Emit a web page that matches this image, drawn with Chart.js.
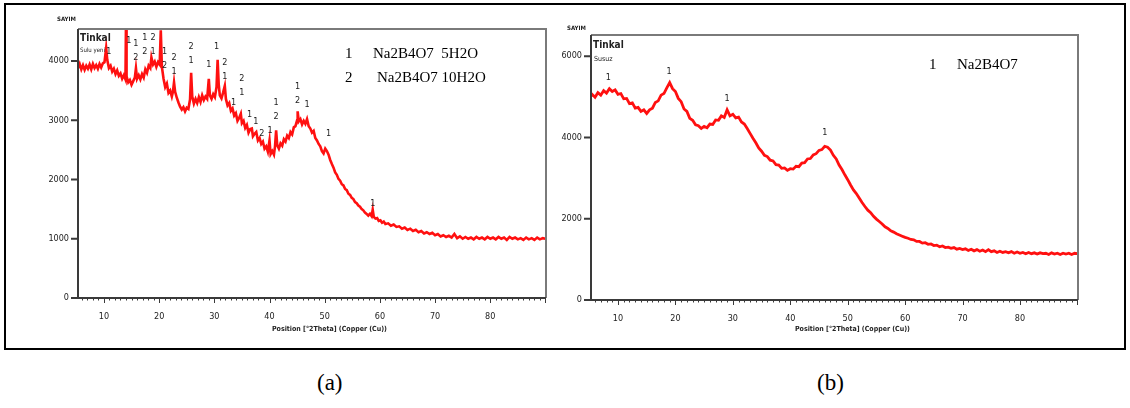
<!DOCTYPE html>
<html>
<head>
<meta charset="utf-8">
<script src="https://cdn.jsdelivr.net/npm/chart.js"></script>
<style>
  body { margin: 0; background: #fff; width: 1130px; height: 408px; position: relative; overflow: hidden; }
  .caja { position: absolute; left: 4px; top: 3px; width: 1122px; height: 347px; border: 2px solid #000; box-sizing: border-box; }
  canvas { position: absolute; }
  .t { position: absolute; white-space: nowrap; color: #222; line-height: 1; }
  .narrow { font-family: "DejaVu Sans Condensed", "Liberation Sans Narrow", sans-serif; }
  .serif { font-family: "Liberation Serif", "DejaVu Serif", serif; color: #000; }
</style>
</head>
<body>
<div class="caja"></div>
<canvas id="chartA" width="550" height="330" style="left:10px;top:10px"></canvas>
<canvas id="chartB" width="560" height="330" style="left:540px;top:10px"></canvas>

<!-- textos del panel (a) -->
<div class="t narrow" style="left:57px;top:16px;font-size:6px;font-weight:bold">SAYIM</div>
<div class="t narrow" style="left:80px;top:33px;font-size:10px;font-weight:bold">Tinkal</div>
<div class="t narrow" style="left:80px;top:47px;font-size:6px">Sulu yeni</div>
<div class="t serif" style="left:345px;top:46px;font-size:15px">1</div>
<div class="t serif" style="left:373px;top:46px;font-size:15px">Na2B4O7&nbsp; 5H2O</div>
<div class="t serif" style="left:345px;top:70px;font-size:15px">2</div>
<div class="t serif" style="left:377px;top:70px;font-size:15px">Na2B4O7 10H2O</div>
<div class="t narrow" style="left:272px;top:326px;font-size:7px;font-weight:bold">Position [°2Theta] (Copper (Cu))</div>

<!-- textos del panel (b) -->
<div class="t narrow" style="left:567px;top:25px;font-size:6px;font-weight:bold">SAYIM</div>
<div class="t narrow" style="left:593px;top:40px;font-size:10px;font-weight:bold">Tinkal</div>
<div class="t narrow" style="left:594px;top:56px;font-size:7px">Susuz</div>
<div class="t serif" style="left:929px;top:57px;font-size:15px">1</div>
<div class="t serif" style="left:957px;top:57px;font-size:15px">Na2B4O7</div>
<div class="t narrow" style="left:795px;top:326px;font-size:7px;font-weight:bold">Position [°2Theta] (Copper (Cu))</div>

<div class="t serif" style="left:317px;top:371px;font-size:23px">(a)</div>
<div class="t serif" style="left:817px;top:371px;font-size:23px">(b)</div>

<script>
const anglesA = [
  5.0, 5.3, 5.6, 5.9, 6.2, 6.5, 6.8, 7.1, 7.4, 7.7, 8.0, 8.3, 8.6, 8.9, 9.2, 9.5, 9.8,
  10.1, 10.4, 10.6, 10.9, 11.2, 11.5, 11.8, 12.1, 12.4, 12.7, 13.0, 13.3, 13.6, 13.9, 14.0, 14.1,
  14.4, 14.7, 15.0, 15.3, 15.6, 15.8, 16.0, 16.3, 16.6, 16.9, 17.2, 17.5, 17.8, 18.1, 18.4, 18.6,
  18.9, 19.2, 19.5, 19.8, 20.1, 20.3, 20.5, 20.8, 21.1, 21.4, 21.7, 22.0, 22.3, 22.5, 22.7, 22.9,
  23.2, 23.5, 23.8, 24.1, 24.4, 24.7, 25.0, 25.3, 25.6, 25.8, 26.0, 26.3, 26.6, 26.9, 27.2, 27.5,
  27.8, 28.1, 28.4, 28.7, 29.0, 29.2, 29.5, 29.8, 30.1, 30.4, 30.6, 30.8, 31.0, 31.3, 31.6, 31.9,
  32.1, 32.4, 32.7, 33.0, 33.3, 33.6, 33.9, 34.2, 34.5, 34.8, 35.0, 35.3, 35.6, 35.9, 36.2, 36.5,
  36.8, 37.0, 37.3, 37.6, 37.9, 38.2, 38.5, 38.8, 39.1, 39.4, 39.7, 40.0, 40.2, 40.5, 40.8, 41.0,
  41.2, 41.4, 41.7, 42.0, 42.3, 42.6, 42.9, 43.2, 43.5, 43.8, 44.1, 44.4, 44.7, 45.0, 45.1, 45.3,
  45.6, 45.9, 46.2, 46.5, 46.8, 47.1, 47.4, 47.7, 48.0, 48.3, 48.6, 48.9, 49.2, 49.5, 49.8, 50.1,
  50.4, 50.7, 51.0, 51.3, 51.6, 51.9, 52.2, 52.5, 52.8, 53.1, 53.4, 53.7, 54.0, 54.3, 54.6, 54.9,
  55.2, 55.5, 55.8, 56.1, 56.4, 56.7, 57.0, 57.3, 57.6, 57.9, 58.2, 58.5, 58.7, 58.9, 59.2, 59.5,
  59.8, 60.1, 60.4, 60.7, 61.0, 61.5, 62.0, 62.5, 63.0, 63.5, 64.0, 64.5, 65.0, 65.5, 66.0, 66.5,
  67.0, 67.5, 68.0, 68.5, 69.0, 69.5, 70.0, 70.5, 71.0, 71.5, 72.0, 72.5, 73.0, 73.5, 74.0, 74.5,
  75.0, 75.5, 76.0, 76.5, 77.0, 77.5, 78.0, 78.5, 79.0, 79.5, 80.0, 80.5, 81.0, 81.5, 82.0, 82.5,
  83.0, 83.5, 84.0, 84.5, 85.0, 85.5, 86.0, 86.5, 87.0, 87.5, 88.0, 88.5, 89.0, 89.5, 90.0
];
const countsA = [
  3990, 3880, 3950, 3860, 3930, 3850, 3920, 3870, 3940, 3860, 3950, 3880, 3930, 3870, 3950, 3890, 3960,
  3980, 4220, 4020, 3880, 3920, 3820, 3870, 3780, 3840, 3750, 3790, 3700, 3760, 3690, 4700, 3740,
  3640, 3680, 3600, 3660, 3720, 3880, 3700, 3760, 3690, 3780, 3720, 3860, 3800, 3920, 3880, 4060,
  3940, 3990, 3900, 3980, 3940, 4520, 3900, 3700, 3560, 3620, 3460, 3500, 3400, 3480, 3640, 3480,
  3380, 3300, 3230, 3180, 3220, 3150, 3210, 3190, 3350, 3800, 3400, 3280, 3360, 3290, 3390, 3310,
  3420, 3340, 3400, 3360, 3700, 3420, 3360, 3440, 3390, 3560, 4020, 3600, 3420, 3370, 3470, 3580,
  3360, 3250, 3290, 3160, 3200, 3080, 3120, 2990, 3040, 3110, 2950, 2990, 2870, 2920, 2790, 2850,
  2860, 2730, 2770, 2800, 2660, 2700, 2600, 2640, 2520, 2560, 2470, 2660, 2430, 2480, 2420, 2560,
  2830, 2580, 2520, 2610, 2570, 2680, 2640, 2740, 2700, 2800, 2760, 2880, 2900, 3000, 3150, 2980,
  3020, 2930, 2990, 2940, 3020, 2900, 2860, 2790, 2820, 2700, 2660, 2600, 2560, 2480, 2440, 2520,
  2480, 2420, 2330, 2260, 2200, 2120, 2080, 2010, 1980, 1920, 1900, 1840, 1820, 1760, 1740, 1690,
  1670, 1620, 1600, 1560, 1540, 1500, 1480, 1440, 1420, 1390, 1420, 1380, 1490, 1370, 1340, 1350,
  1300, 1310, 1270, 1290, 1250, 1260, 1220, 1240, 1200, 1210, 1170, 1190, 1150, 1170, 1130, 1150,
  1110, 1130, 1090, 1110, 1080, 1100, 1060, 1080, 1040, 1060, 1030, 1050, 1020, 1080, 1010, 1040,
  1000, 1030, 1000, 1020, 990, 1030, 1000, 1020, 990, 1030, 1000, 1020, 990, 1030, 1000, 1020,
  980, 1030, 1000, 1020, 990, 1010, 980, 1020, 990, 1010, 980, 1020, 990, 1010, 1000
];
// etiquetas de picos (a): angulo, texto apilado, nivel en cuentas
const peakAnglesA = [10.9, 14.5, 15.8, 17.4, 18.9, 21.0, 22.7, 25.8, 29.0, 30.4, 31.9, 33.5, 35.0, 36.4, 37.5, 38.6, 40.1, 41.2, 45.1, 46.8, 50.7, 58.7];
const peakTextA   = ["1", "1", "12", "12", "21", "12", "21", "21", "1", "1", "21", "1", "21", "1", "1", "2", "1", "12", "12", "1", "1", "1"];
const peakLevelA  = [4165, 4350, 4300, 4400, 4390, 4165, 4064, 4250, 3930, 4250, 3980, 3290, 3710, 3100, 2970, 2780, 2830, 3305, 3560, 3255, 2780, 1600];

// Datos del difractograma (b)
const anglesB = [
  5.0, 5.5, 6.0, 6.5, 7.0, 7.5, 8.0, 8.5, 9.0, 9.5, 10.0, 10.5, 11.0, 11.5, 12.0, 12.5, 13.0, 13.5,
  14.0, 14.5, 15.0, 15.5, 16.0, 16.5, 17.0, 17.5, 18.0, 18.5, 19.0, 19.5, 20.0, 20.5, 21.0, 21.5,
  22.0, 22.5, 23.0, 23.5, 24.0, 24.5, 25.0, 25.5, 26.0, 26.5, 27.0, 27.5, 28.0, 28.5, 29.0, 29.5,
  30.0, 30.5, 31.0, 31.5, 32.0, 32.5, 33.0, 33.5, 34.0, 34.5, 35.0, 35.5, 36.0, 36.5, 37.0, 37.5,
  38.0, 38.5, 39.0, 39.5, 40.0, 40.5, 41.0, 41.5, 42.0, 42.5, 43.0, 43.5, 44.0, 44.5, 45.0, 45.5,
  46.0, 46.5, 47.0, 47.5, 48.0, 48.5, 49.0, 49.5, 50.0, 50.5, 51.0, 51.5, 52.0, 52.5, 53.0, 53.5,
  54.0, 54.5, 55.0, 55.5, 56.0, 56.5, 57.0, 57.5, 58.0, 58.5, 59.0, 59.5, 60.0, 60.5, 61.0, 61.5,
  62.0, 62.5, 63.0, 63.5, 64.0, 64.5, 65.0, 65.5, 66.0, 66.5, 67.0, 67.5, 68.0, 68.5, 69.0, 69.5,
  70.0, 70.5, 71.0, 71.5, 72.0, 72.5, 73.0, 73.5, 74.0, 74.5, 75.0, 75.5, 76.0, 76.5, 77.0, 77.5,
  78.0, 78.5, 79.0, 79.5, 80.0, 80.5, 81.0, 81.5, 82.0, 82.5, 83.0, 83.5, 84.0, 84.5, 85.0, 85.5,
  86.0, 86.5, 87.0, 87.5, 88.0, 88.5, 89.0, 89.5, 90.0
];
const countsB = [
  4950, 5060, 4990, 5100, 5040, 5150, 5090, 5200, 5130, 5170, 5060, 5080, 4950, 4960, 4830, 4850, 4720, 4740,
  4640, 4680, 4590, 4680, 4720, 4860, 4900, 5040, 5080, 5220, 5350, 5200, 5130, 4960, 4880, 4700,
  4640, 4470, 4420, 4310, 4290, 4220, 4270, 4240, 4330, 4320, 4430, 4420, 4530, 4490, 4680, 4530,
  4570, 4480, 4500, 4380, 4330, 4220, 4100, 3980, 3870, 3740, 3660, 3560, 3530, 3440, 3420, 3330,
  3320, 3240, 3250, 3190, 3230, 3220, 3290, 3280, 3370, 3380, 3470, 3480, 3570, 3600, 3680, 3700,
  3780, 3760, 3690, 3560, 3470, 3320, 3210, 3080, 2960, 2830, 2710, 2620, 2510, 2400, 2300, 2210,
  2150, 2060, 1990, 1930, 1870, 1800, 1760, 1700, 1670, 1630, 1600, 1570, 1540, 1520, 1490, 1480,
  1440, 1440, 1400, 1410, 1370, 1380, 1340, 1350, 1310, 1330, 1290, 1300, 1270, 1290, 1250, 1270,
  1240, 1260, 1220, 1250, 1210, 1240, 1200, 1230, 1190, 1240, 1190, 1210, 1170, 1200, 1170, 1190,
  1160, 1190, 1150, 1180, 1150, 1170, 1140, 1170, 1140, 1160, 1130, 1160, 1140, 1150, 1120, 1160,
  1130, 1150, 1120, 1150, 1130, 1150, 1120, 1150, 1140
];
const peakAnglesB = [8.3, 18.9, 29.0, 46.0];
const peakTextB   = ["1", "1", "1", "1"];
const peakLevelB  = [5480, 5630, 4960, 4120];

// marcas del eje
const xTicks = [10, 20, 30, 40, 50, 60, 70, 80];
const yTicksA = [0, 1000, 2000, 3000, 4000];
const yTicksB = [0, 2000, 4000, 6000];

const tickFont = { family: '"DejaVu Sans Condensed", "Liberation Sans Narrow", sans-serif', size: 9 };

// marco, marcas menores y numeros de picos
const xrdDecor = {
  id: 'xrdDecor',
  afterDraw(chart, args, opts) {
    const ctx = chart.ctx;
    const a = chart.chartArea;
    const xs = chart.scales.x;
    const ys = chart.scales.y;
    ctx.save();
    ctx.lineWidth = 2;
    ctx.strokeStyle = '#7a7a7a';
    ctx.beginPath();
    ctx.moveTo(a.left, a.top);
    ctx.lineTo(a.right, a.top);
    ctx.lineTo(a.right, a.bottom);
    ctx.stroke();

    ctx.strokeStyle = '#3a3a3a';
    ctx.beginPath();
    ctx.moveTo(a.left, a.top);
    ctx.lineTo(a.left, a.bottom);
    ctx.lineTo(a.right, a.bottom);
    ys.ticks.forEach(t => {
      const y = ys.getPixelForValue(t.value);
      ctx.moveTo(a.left - 7, y);
      ctx.lineTo(a.left, y);
    });
    ctx.stroke();

    ctx.lineWidth = 1;
    ctx.beginPath();
    for (let d = Math.ceil(xs.min); d <= xs.max; d++) {
      const x = Math.round(xs.getPixelForValue(d)) + 0.5;
      const len = d % 10 === 0 ? 5 : 2.5;
      ctx.moveTo(x, a.bottom);
      ctx.lineTo(x, a.bottom + len);
    }
    ctx.stroke();

    ctx.fillStyle = '#222';
    ctx.font = '9px "DejaVu Sans Condensed", "Liberation Sans Narrow", sans-serif';
    ctx.textAlign = 'center';
    ctx.textBaseline = 'middle';
    opts.angles.forEach((ang, i) => {
      const x = xs.getPixelForValue(ang);
      const y0 = ys.getPixelForValue(opts.levels[i]);
      opts.texts[i].split('').forEach((ch, k) => ctx.fillText(ch, x, y0 + k * 14));
    });
    ctx.restore();
  }
};

function crearGrafico(id, angles, counts, yTicks, yMax, dims, peaks) {
  const ctx = document.getElementById(id).getContext('2d');
  return new Chart(ctx, {
    type: 'line',
    data: {
      datasets: [{
        data: angles.map((a, i) => ({ x: a, y: counts[i] })),
        borderColor: '#ff1010',
        borderWidth: dims.lw,
        pointRadius: 0,
        tension: 0,
        fill: false
      }]
    },
    options: {
      responsive: false,
      animation: false,
      layout: { padding: { top: dims.top, right: dims.right, left: 0, bottom: 0 } },
      plugins: {
        legend: { display: false },
        tooltip: { enabled: false },
        xrdDecor: peaks
      },
      scales: {
        x: {
          type: 'linear',
          min: 5.3,
          max: 90.1,
          grid: { display: false, drawTicks: false },
          border: { display: false },
          afterBuildTicks: s => { s.ticks = xTicks.map(v => ({ value: v })); },
          afterFit: s => { s.height = dims.xh; },
          ticks: { padding: 13, font: tickFont, color: '#222', maxRotation: 0, autoSkip: false, callback: v => String(v) }
        },
        y: {
          min: 0,
          max: yMax,
          grid: { display: false, drawTicks: false },
          border: { display: false },
          afterBuildTicks: s => { s.ticks = yTicks.map(v => ({ value: v })); },
          afterFit: s => { s.width = dims.yw; },
          ticks: { padding: 9, font: tickFont, color: '#222', callback: v => String(v) }
        }
      }
    },
    plugins: [xrdDecor]
  });
}

crearGrafico('chartA', anglesA, countsA, yTicksA, 4540,
  { top: 19, right: 14, xh: 42, yw: 68, lw: 2.6 },
  { angles: peakAnglesA, texts: peakTextA, levels: peakLevelA });

crearGrafico('chartB', anglesB, countsB, yTicksB, 6520,
  { top: 25, right: 22, xh: 40, yw: 51, lw: 2.8 },
  { angles: peakAnglesB, texts: peakTextB, levels: peakLevelB });
</script>
</body>
</html>
